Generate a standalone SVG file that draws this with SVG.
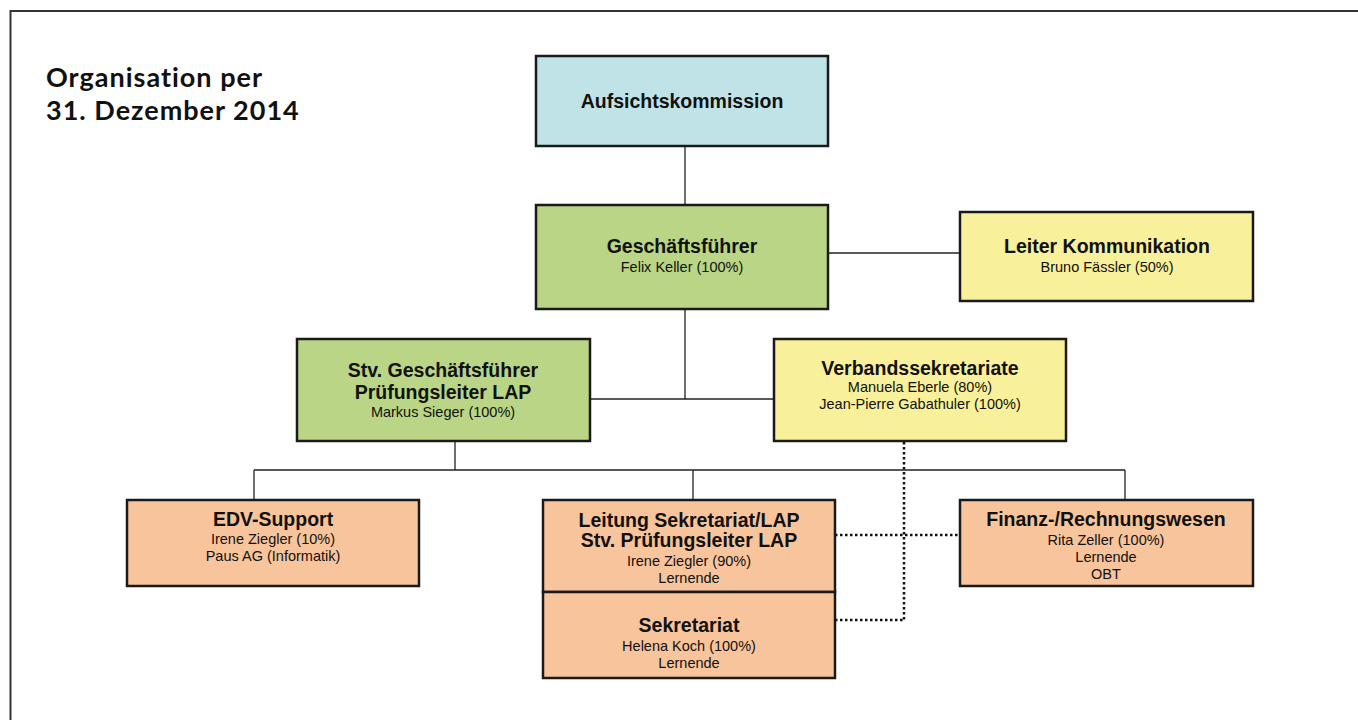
<svg xmlns="http://www.w3.org/2000/svg" width="1358" height="720" viewBox="0 0 1358 720">
<style>
.box{stroke:#1a1a1a;stroke-width:2.5}
.blue{fill:#c0e3e7}.green{fill:#b9d585}.yellow{fill:#f8f09a}.orange{fill:#f8c49c}
.h{font-family:"Liberation Sans",Arial,sans-serif;font-weight:bold;font-size:19.5px;fill:#111;text-anchor:middle}
.n{font-family:"Liberation Sans",Arial,sans-serif;font-size:14.5px;fill:#111;text-anchor:middle}
.ln{stroke:#222;stroke-width:1.3;fill:none}
.dot{stroke:#111;stroke-width:2.5;stroke-dasharray:2.5 2.5;fill:none}
.title{font-family:Lato,"Open Sans",sans-serif;font-weight:bold;font-size:27px;fill:#111;letter-spacing:1px}
</style>
<rect width="1358" height="720" fill="#fff"/>
<path d="M10.5,720 V11 H1358" stroke="#333" stroke-width="2" fill="none"/>
<g id="title">
<text class="title" x="46" y="87">Organisation per</text>
<text class="title" x="46" y="120">31. Dezember 2014</text>
</g>
<g id="connectors">
<path class="ln" d="M685,146 V205"/>
<path class="ln" d="M828,253 H960"/>
<path class="ln" d="M685,309 V399 M590,399 H774"/>
<path class="ln" d="M455,441 V470 M254,470 H1125 M254,470 V500 M693,470 V500 M1125,470 V500"/>
<path class="dot" d="M904,442 V620 M835,535 H960 M835,620 H904"/>
</g>
<g id="aufsicht">
<rect class="box blue" x="536" y="56" width="292" height="90"/>
<text class="h" x="682" y="108">Aufsichtskommission</text>
</g>
<g id="gf">
<rect class="box green" x="536" y="205" width="292" height="104"/>
<text class="h" x="682" y="253">Geschäftsführer</text>
<text class="n" x="682" y="272">Felix Keller (100%)</text>
</g>
<g id="komm">
<rect class="box yellow" x="960" y="212" width="293" height="89"/>
<text class="h" x="1107" y="253">Leiter Kommunikation</text>
<text class="n" x="1107" y="272">Bruno Fässler (50%)</text>
</g>
<g id="stv">
<rect class="box green" x="297" y="339" width="293" height="102"/>
<text class="h" x="443" y="377">Stv. Geschäftsführer</text>
<text class="h" x="443" y="399">Prüfungsleiter LAP</text>
<text class="n" x="443" y="417">Markus Sieger (100%)</text>
</g>
<g id="verband">
<rect class="box yellow" x="774" y="339" width="292" height="102"/>
<text class="h" x="920" y="375">Verbandssekretariate</text>
<text class="n" x="920" y="392">Manuela Eberle (80%)</text>
<text class="n" x="920" y="409">Jean-Pierre Gabathuler (100%)</text>
</g>
<g id="edv">
<rect class="box orange" x="127" y="500" width="292" height="86"/>
<text class="h" x="273" y="526">EDV-Support</text>
<text class="n" x="273" y="544">Irene Ziegler (10%)</text>
<text class="n" x="273" y="561">Paus AG (Informatik)</text>
</g>
<g id="leitung">
<rect class="box orange" x="543" y="500" width="292" height="92"/>
<text class="h" x="689" y="527">Leitung Sekretariat/LAP</text>
<text class="h" x="689" y="547">Stv. Prüfungsleiter LAP</text>
<text class="n" x="689" y="566">Irene Ziegler (90%)</text>
<text class="n" x="689" y="583">Lernende</text>
</g>
<g id="sekretariat">
<rect class="box orange" x="543" y="592" width="292" height="86"/>
<text class="h" x="689" y="632">Sekretariat</text>
<text class="n" x="689" y="651">Helena Koch (100%)</text>
<text class="n" x="689" y="668">Lernende</text>
</g>
<g id="finanz">
<rect class="box orange" x="960" y="500" width="293" height="86"/>
<text class="h" x="1106" y="526">Finanz-/Rechnungswesen</text>
<text class="n" x="1106" y="545">Rita Zeller (100%)</text>
<text class="n" x="1106" y="562">Lernende</text>
<text class="n" x="1106" y="579">OBT</text>
</g>
</svg>
